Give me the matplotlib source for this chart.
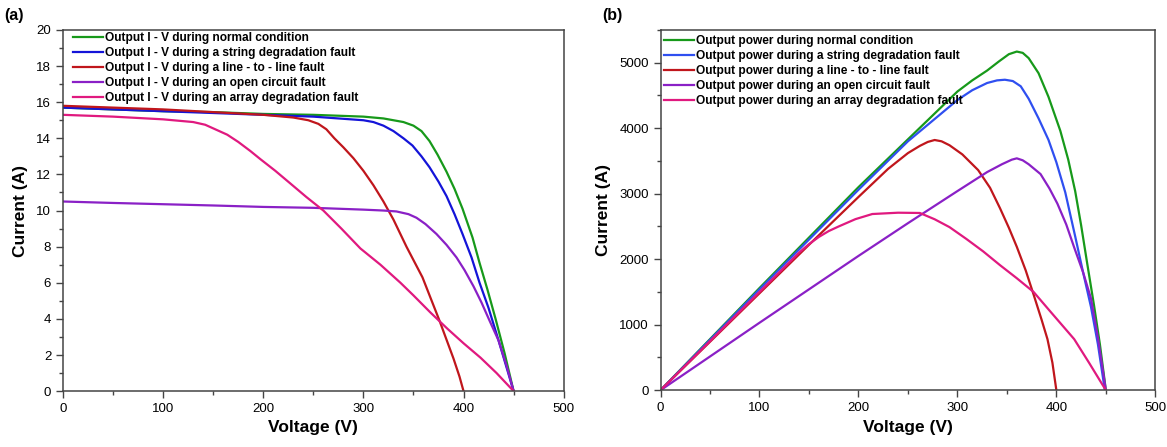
"""I-V and P-V curves of a PV array under normal and faulted conditions."""

import matplotlib.pyplot as plt
from matplotlib.ticker import MultipleLocator

OUT = "out.png"

# ---- panel (a): current vs voltage -------------------------------------
iv_normal_v = [0, 50, 100, 150, 200, 250, 300, 320, 340, 350, 358, 366, 374, 383, 391, 399, 409, 416, 424, 432, 441, 450]
iv_normal_i = [15.7, 15.6, 15.5, 15.45, 15.35, 15.3, 15.2, 15.1, 14.9, 14.7, 14.4, 13.85, 13.1, 12.15, 11.2, 10.1, 8.5, 7.1, 5.6, 4.0, 2.1, 0]

iv_string_v = [0, 50, 100, 150, 200, 250, 300, 310, 320, 330, 340, 349, 358, 366, 375, 383, 391, 399, 408, 416, 425, 435, 450]
iv_string_i = [15.7, 15.6, 15.5, 15.4, 15.3, 15.2, 15.0, 14.9, 14.7, 14.4, 14.0, 13.6, 13.0, 12.4, 11.6, 10.8, 9.8, 8.7, 7.4, 6.0, 4.6, 2.8, 0]

iv_l2l_v = [0, 50, 100, 150, 200, 230, 245, 255, 263, 271, 280, 290, 300, 310, 320, 330, 343, 359, 376, 390, 396, 400]
iv_l2l_i = [15.8, 15.7, 15.6, 15.45, 15.3, 15.15, 15.0, 14.8, 14.5, 14.0, 13.5, 12.9, 12.2, 11.4, 10.5, 9.5, 8.0, 6.3, 3.9, 1.8, 0.8, 0]

iv_open_v = [0, 50, 100, 150, 200, 250, 300, 320, 333, 345, 353, 362, 373, 383, 393, 401, 410, 418, 426, 435, 443, 450]
iv_open_i = [10.5, 10.42, 10.35, 10.28, 10.2, 10.15, 10.05, 10.0, 9.95, 9.8, 9.6, 9.25, 8.7, 8.1, 7.4, 6.7, 5.8, 4.9, 3.9, 2.8, 1.4, 0]

iv_array_v = [0, 50, 100, 130, 142, 154, 164, 175, 187, 197, 212, 227, 243, 260, 278, 297, 317, 337, 350, 367, 384, 400, 417, 433, 450]
iv_array_i = [15.3, 15.2, 15.05, 14.9, 14.75, 14.45, 14.2, 13.8, 13.3, 12.85, 12.2, 11.5, 10.75, 10.0, 9.0, 7.9, 7.0, 6.0, 5.3, 4.35, 3.45, 2.65, 1.85, 1.0, 0]

# ---- panel (b): power vs voltage ---------------------------------------
pv_normal_v = [0, 50, 100, 150, 200, 250, 300, 315, 330, 342, 352, 360, 366, 372, 382, 392, 404, 412, 419, 425, 431, 438, 444, 450]
pv_normal_p = [0, 780, 1560, 2330, 3100, 3830, 4560, 4730, 4880, 5020, 5130, 5170, 5150, 5070, 4840, 4480, 3960, 3520, 3040, 2520, 1950, 1300, 700, 0]

pv_string_v = [0, 50, 100, 150, 200, 250, 300, 315, 330, 340, 348, 356, 364, 372, 382, 392, 400, 409, 419, 427, 435, 442, 449]
pv_string_p = [0, 770, 1540, 2300, 3060, 3800, 4430, 4580, 4690, 4730, 4740, 4720, 4640, 4450, 4150, 3823, 3480, 3020, 2350, 1800, 1270, 700, 0]

pv_l2l_v = [0, 50, 100, 150, 200, 230, 250, 262, 270, 277, 284, 292, 305, 321, 333, 343, 352, 360, 369, 377, 385, 391, 396, 400]
pv_l2l_p = [0, 740, 1480, 2220, 2950, 3380, 3620, 3730, 3790, 3820, 3800, 3740, 3600, 3360, 3090, 2780, 2480, 2190, 1830, 1460, 1080, 780, 420, 0]

pv_open_v = [0, 50, 100, 150, 200, 250, 300, 330, 345, 355, 360, 366, 372, 384, 393, 401, 410, 418, 427, 435, 442, 450]
pv_open_p = [0, 515, 1030, 1540, 2050, 2550, 3040, 3330, 3450, 3520, 3540, 3510, 3450, 3300, 3080, 2850, 2530, 2180, 1800, 1400, 800, 0]

pv_array_v = [0, 50, 100, 140, 150, 160, 170, 180, 197, 214, 240, 262, 277, 292, 309, 326, 343, 360, 377, 394, 406, 418, 433, 450]
pv_array_p = [0, 750, 1500, 2100, 2230, 2340, 2430, 2500, 2612, 2690, 2710, 2706, 2610, 2490, 2310, 2120, 1910, 1710, 1500, 1200, 990, 780, 420, 0]

iv_labels = [
    "Output I - V during normal condition",
    "Output I - V during a string degradation fault",
    "Output I - V during a line - to - line fault",
    "Output I - V during an open circuit fault",
    "Output I - V during an array degradation fault",
]
pv_labels = [
    "Output power during normal condition",
    "Output power during a string degradation fault",
    "Output power during a line - to - line fault",
    "Output power during an open circuit fault",
    "Output power during an array degradation fault",
]

COLORS_A = ["#17991a", "#1414d8", "#c0161c", "#8a20c6", "#e0197f"]
COLORS_B = ["#17991a", "#2f4ff0", "#c0161c", "#8a20c6", "#e0197f"]

plt.rcParams["font.family"] = ["Liberation Sans", "DejaVu Sans"]


def style_axes(ax, ymax, ymajor, yminor, legend_anchor):
    ax.set_xlim(0, 500)
    ax.set_ylim(0, ymax)
    ax.xaxis.set_major_locator(MultipleLocator(100))
    ax.xaxis.set_minor_locator(MultipleLocator(50))
    ax.yaxis.set_major_locator(MultipleLocator(ymajor))
    ax.yaxis.set_minor_locator(MultipleLocator(yminor))
    ax.tick_params(which="both", direction="out", labelsize=9.5, color="#444444")
    ax.tick_params(which="major", length=5, width=1)
    ax.tick_params(which="minor", length=3, width=1)
    for sp in ax.spines.values():
        sp.set_color("#444444")
        sp.set_linewidth(1.1)
    ax.set_xlabel("Voltage (V)", fontsize=12.5, fontweight="bold", labelpad=4)
    ax.set_ylabel("Current (A)", fontsize=12.5, fontweight="bold", labelpad=6)
    ax.legend(loc="upper left", bbox_to_anchor=legend_anchor, frameon=False,
              prop={"weight": "bold", "size": 8.6},
              handlelength=2.5, handletextpad=0.15, labelspacing=0.25,
              borderaxespad=0.1, borderpad=0.1)


def main() -> None:
    fig = plt.figure(figsize=(11.67, 4.47), dpi=100)
    ax_a = fig.add_axes([0.054, 0.125, 0.429, 0.808])
    ax_b = fig.add_axes([0.566, 0.127, 0.424, 0.806])

    iv = [(iv_normal_v, iv_normal_i), (iv_string_v, iv_string_i), (iv_l2l_v, iv_l2l_i),
          (iv_open_v, iv_open_i), (iv_array_v, iv_array_i)]
    for (v, i), lab, c in zip(iv, iv_labels, COLORS_A):
        ax_a.plot(v, i, color=c, lw=1.6, label=lab)
    style_axes(ax_a, 20, 2, 1, (0.016, 1.0))

    pv = [(pv_normal_v, pv_normal_p), (pv_string_v, pv_string_p), (pv_l2l_v, pv_l2l_p),
          (pv_open_v, pv_open_p), (pv_array_v, pv_array_p)]
    for (v, p), lab, c in zip(pv, pv_labels, COLORS_B):
        ax_b.plot(v, p, color=c, lw=1.6, label=lab)
    style_axes(ax_b, 5500, 1000, 500, (0.002, 0.992))

    fig.text(0.004, 0.955, "(a)", fontsize=11.5, fontweight="bold")
    fig.text(0.516, 0.955, "(b)", fontsize=11.5, fontweight="bold")

    fig.savefig(OUT, dpi=100)


if __name__ == "__main__":
    main()
